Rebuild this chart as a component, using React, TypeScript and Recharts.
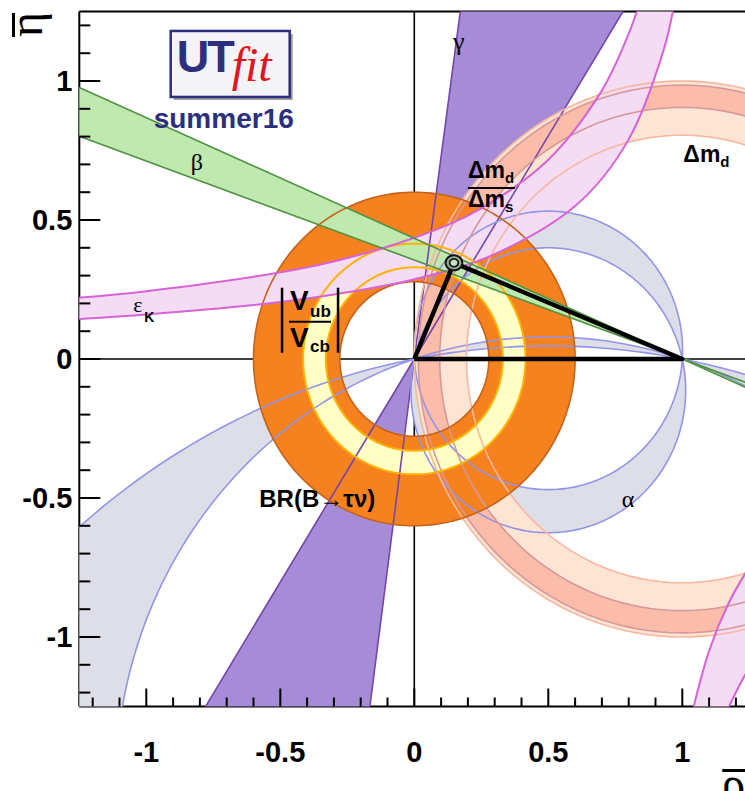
import React from "react";
import { ScatterChart, Scatter, XAxis, YAxis, ReferenceLine } from "recharts";

type P = { x: number; y: number };

// ---------- axes (rho-bar / eta-bar) ----------
const axisDomain: [number, number] = [-1.25, 1.25];
const allTicks = [
    -1.2, -1.1, -1, -0.9, -0.8, -0.7, -0.6, -0.5, -0.4, -0.3, -0.2, -0.1, 0,
    0.1, 0.2, 0.3, 0.4, 0.5, 0.6, 0.7, 0.8, 0.9, 1, 1.1, 1.2,
];
const majorTicks = [-1, -0.5, 0, 0.5, 1];

// ---------- constraints ----------
// gamma: wedge through the origin (edges where they leave the frame)
const gammaUp: P[] = [
    { x: 0, y: 0 },
    { x: 0.785, y: 1.26 },
    { x: 0.173, y: 1.26 },
];
const gammaDown: P[] = [
    { x: 0, y: 0 },
    { x: -0.785, y: -1.26 },
    { x: -0.167, y: -1.26 },
];

// beta: two lines crossing at (1, 0)
const betaTop: P[] = [
    { x: -1.3, y: 0.998 },
    { x: 1.3, y: -0.13 },
];
const betaLow: P[] = [
    { x: -1.3, y: 0.819 },
    { x: 1.3, y: -0.107 },
];

// alpha: circles through (0,0) and (1,0), given by the eta of their centre
const alphaNear = [0.031, -0.1125];
const alphaFar = [-2.63, -1.535];

// rings around the origin
const vubRadii = [0.33, 0.415];
const tauNuRadii = [0.278, 0.6];
// rings around (1, 0)
const dmdRadii = [0.805, 1.0];
const dmsRadii = [0.905, 0.985];

// eps_K hyperbola, upper branch
const epsUpTop: P[] = [
    { x: -1.3, y: 0.216 },
    { x: -1.0, y: 0.244 },
    { x: -0.6, y: 0.296 },
    { x: -0.3, y: 0.351 },
    { x: 0.0, y: 0.436 },
    { x: 0.25, y: 0.542 },
    { x: 0.5, y: 0.717 },
    { x: 0.69, y: 0.95 },
    { x: 0.8, y: 1.17 },
    { x: 0.87, y: 1.37 },
];
const epsUpLow: P[] = [
    { x: -1.3, y: 0.141 },
    { x: -1.0, y: 0.16 },
    { x: -0.6, y: 0.194 },
    { x: -0.3, y: 0.232 },
    { x: 0.0, y: 0.287 },
    { x: 0.3, y: 0.377 },
    { x: 0.6, y: 0.55 },
    { x: 0.8, y: 0.79 },
    { x: 0.93, y: 1.11 },
    { x: 0.99, y: 1.38 },
];
// eps_K, lower-right branch
const epsDownLeft: P[] = [
    { x: 1.015, y: -1.38 },
    { x: 1.04, y: -1.26 },
    { x: 1.1, y: -1.05 },
    { x: 1.17, y: -0.884 },
    { x: 1.25, y: -0.749 },
    { x: 1.32, y: -0.66 },
];
const epsDownRight: P[] = [
    { x: 1.125, y: -1.36 },
    { x: 1.17, y: -1.26 },
    { x: 1.21, y: -1.18 },
    { x: 1.25, y: -1.11 },
    { x: 1.32, y: -1.0 },
];

// global fit
const apex: P = { x: 0.148, y: 0.346 };
const apexContours = [
    [0.031, 0.027],
    [0.016, 0.014],
];
const triangle: P[] = [{ x: 0, y: 0 }, apex, { x: 1, y: 0 }, { x: 0, y: 0 }];

// annotations
const labels = [
    { id: "logo", x: -0.909, y: 1.18 },
    { id: "gamma", x: 0.144, y: 1.111 },
    { id: "beta", x: -0.834, y: 0.68 },
    { id: "epsK", x: -1.049, y: 0.169 },
    { id: "dmRatio", x: 0.2, y: 0.615 },
    { id: "dmd", x: 1.004, y: 0.709 },
    { id: "vub", x: -0.389, y: 0.134 },
    { id: "tau", x: -0.362, y: -0.532 },
    { id: "alpha", x: 0.774, y: -0.532 },
];

// ---------- helpers ----------
const sans = "'Liberation Sans', Arial, Helvetica, sans-serif";
const serif = "'Liberation Serif', 'Times New Roman', serif";

function ellipse(cx: number, cy: number, rx: number, ry: number, n = 240): P[] {
    const out: P[] = [];
    for (let i = 0; i < n; i++) {
        const t = (2 * Math.PI * i) / n;
        out.push({ x: cx + rx * Math.cos(t), y: cy + ry * Math.sin(t) });
    }
    return out;
}
const circle = (cx: number, cy: number, r: number, n = 240) => ellipse(cx, cy, r, r, n);
const alphaCircle = (c: number) => circle(0.5, c, Math.sqrt(0.25 + c * c), 360);

const f = (v: number) => v.toFixed(2);

function runPath(pts: P[], cmd: "M" | "L", smooth: boolean) {
    let d = `${cmd}${f(pts[0].x)},${f(pts[0].y)}`;
    for (let i = 1; i < pts.length; i++) {
        const p2 = pts[i];
        if (!smooth) {
            d += `L${f(p2.x)},${f(p2.y)}`;
            continue;
        }
        const p1 = pts[i - 1];
        const p0 = pts[i - 2] ?? p1;
        const p3 = pts[i + 1] ?? p2;
        const c1x = p1.x + (p2.x - p0.x) / 6;
        const c1y = p1.y + (p2.y - p0.y) / 6;
        const c2x = p2.x - (p3.x - p1.x) / 6;
        const c2y = p2.y - (p3.y - p1.y) / 6;
        d += `C${f(c1x)},${f(c1y)} ${f(c2x)},${f(c2y)} ${f(p2.x)},${f(p2.y)}`;
    }
    return d;
}

type Style = { fill?: string; stroke?: string; width?: number; smooth?: boolean; close?: boolean };
const noDot = () => <g />;

// one scatter series per shape; its "line" draws the outline from the scaled points
function layer(key: string, loops: P[][][], s: Style) {
    const data = loops.flat(2);
    const draw = (props: any) => {
        const px: P[] = props.points ?? [];
        let k = 0;
        let d = "";
        for (const loop of loops) {
            loop.forEach((run, i) => {
                const seg = px.slice(k, k + run.length);
                k += run.length;
                if (seg.length) d += runPath(seg, i === 0 ? "M" : "L", !!s.smooth);
            });
            if (s.close) d += "Z";
        }
        return (
            <path
                d={d}
                fill={s.fill ?? "none"}
                fillRule="evenodd"
                stroke={s.stroke ?? "none"}
                strokeWidth={s.width ?? 0}
                strokeLinejoin="round"
            />
        );
    };
    return (
        <Scatter key={key} data={data} shape={noDot} line={draw} isAnimationActive={false} />
    );
}

const rev = (a: P[]) => [...a].reverse();
const ringAt = (cx: number, radii: number[]) => radii.map((r) => [circle(cx, 0, r)]);

const isMajor = (v: number) => majorTicks.some((m) => Math.abs(m - v) < 1e-9);

const YTick = (props: any) => {
    const { x, y, payload } = props;
    const major = isMajor(payload.value);
    return (
        <g>
            <line x1={x} x2={x + (major ? 21 : 11)} y1={y} y2={y} stroke="#000" strokeWidth={2} />
            {major && (
                <text x={x - 7} y={y + 10} textAnchor="end" fontFamily={sans} fontWeight="bold" fontSize={29} fill="#000">
                    {String(payload.value)}
                </text>
            )}
        </g>
    );
};

const XTick = (props: any) => {
    const { x, y, payload } = props;
    const major = isMajor(payload.value);
    return (
        <g>
            <line x1={x} x2={x} y1={y} y2={y - (major ? 18 : 9)} stroke="#000" strokeWidth={2} />
            {major && (
                <text x={x} y={y + 55} textAnchor="middle" fontFamily={sans} fontWeight="bold" fontSize={29} fill="#000">
                    {String(payload.value)}
                </text>
            )}
        </g>
    );
};

const YTitle = (props: any) => {
    const vb = props.viewBox ?? { x: 0, y: 11.5 };
    return (
        <g transform={`translate(${vb.x + 42},${vb.y + 0.5}) rotate(-90)`}>
            <text x={0} y={0} textAnchor="end" fontFamily={serif} fontSize={48} fill="#000">η</text>
            <line x1={-25} x2={-1} y1={-28.5} y2={-28.5} stroke="#000" strokeWidth={3} />
        </g>
    );
};

const XTitle = (props: any) => {
    const vb = props.viewBox ?? { x: 79.3, y: 706.5, width: 670 };
    const x0 = vb.x + vb.width - 28;
    return (
        <g>
            <text x={x0} y={vb.y + 93} fontFamily={serif} fontSize={48} fill="#000">ρ</text>
            <line x1={x0 + 1} x2={x0 + 24} y1={vb.y + 64} y2={vb.y + 64} stroke="#000" strokeWidth={3} />
        </g>
    );
};

function renderLabel(id: string, cx: number, cy: number) {
    switch (id) {
        case "logo":
            return (
                <g>
                    <rect x={cx + 3} y={cy + 3} width={119} height={66} fill="#9c9c9c" />
                    <rect x={cx} y={cy} width={119} height={66} fill="#f4f4f8" stroke="#2c2f7d" strokeWidth={2.5} />
                    <text x={cx + 6} y={cy + 41} fontFamily={sans} fontWeight="bold" fontSize={45} letterSpacing={-2} fill="#2c2f7d">UT</text>
                    <text x={cx + 61} y={cy + 50} fontFamily={serif} fontStyle="italic" fontSize={48} fill="#e0161f">fit</text>
                    <text x={cx - 17} y={cy + 97} fontFamily={sans} fontWeight="bold" fontSize={28} fill="#2c2f7d">summer16</text>
                </g>
            );
        case "gamma":
            return <text x={cx} y={cy} fontFamily={serif} fontSize={26} fill="#000">γ</text>;
        case "beta":
            return <text x={cx} y={cy} fontFamily={serif} fontSize={24} fill="#000">β</text>;
        case "alpha":
            return <text x={cx} y={cy} fontFamily={serif} fontSize={24} fill="#000">α</text>;
        case "epsK":
            return (
                <g>
                    <text x={cx} y={cy} fontFamily={serif} fontSize={22} fill="#000">ε</text>
                    <text x={cx + 11} y={cy + 10} fontFamily={sans} fontWeight="bold" fontSize={14} fill="#000">K</text>
                </g>
            );
        case "dmRatio":
            return (
                <g fontFamily={sans} fontWeight="bold" fill="#000">
                    <text x={cx} y={cy - 10} fontSize={23}>
                        Δm<tspan fontSize={15} dy={5}>d</tspan>
                    </text>
                    <line x1={cx} x2={cx + 47} y1={cy} y2={cy} stroke="#000" strokeWidth={2} />
                    <text x={cx} y={cy + 19} fontSize={23}>
                        Δm<tspan fontSize={15} dy={5}>s</tspan>
                    </text>
                </g>
            );
        case "dmd":
            return (
                <text x={cx} y={cy} fontFamily={sans} fontWeight="bold" fontSize={23} fill="#000">
                    Δm<tspan fontSize={15} dy={5}>d</tspan>
                </text>
            );
        case "vub":
            return (
                <g fontFamily={sans} fontWeight="bold" fill="#000">
                    <line x1={cx - 28} x2={cx - 28} y1={cy - 34} y2={cy + 31} stroke="#000" strokeWidth={2.5} />
                    <line x1={cx + 28} x2={cx + 28} y1={cy - 34} y2={cy + 31} stroke="#000" strokeWidth={2.5} />
                    <text x={cx - 20} y={cy - 12} fontSize={28}>V</text>
                    <text x={cx} y={cy - 5} fontSize={17}>ub</text>
                    <line x1={cx - 21} x2={cx + 21} y1={cy} y2={cy} stroke="#000" strokeWidth={2} />
                    <text x={cx - 20} y={cy + 25} fontSize={28}>V</text>
                    <text x={cx} y={cy + 30} fontSize={17}>cb</text>
                </g>
            );
        case "tau":
            return (
                <text x={cx} y={cy} textAnchor="middle" fontFamily={sans} fontWeight="bold" fontSize={24} fill="#000">
                    BR(B→τν)
                </text>
            );
        default:
            return <g />;
    }
}

const LabelShape = (props: any) => renderLabel(props.payload?.id, props.cx, props.cy);

export default function App() {
    return (
        <div
            style={{
                position: "fixed",
                left: 0,
                top: 0,
                width: 745,
                height: 791,
                overflow: "hidden",
                background: "#fff",
            }}
        >
            <ScatterChart width={760} height={791} margin={{ top: 11.5, right: 10.7, bottom: 0, left: 0 }}>
                {/* filled regions, bottom to top */}
                {layer("gamma-f", [[gammaUp], [gammaDown]], { fill: "#a68bd7", close: true })}
                {layer("alpha-f1", [[alphaCircle(alphaNear[0])], [alphaCircle(alphaNear[1])]], { fill: "#dedee9", close: true })}
                {layer("alpha-f2", [[alphaCircle(alphaFar[0])], [alphaCircle(alphaFar[1])]], { fill: "#dedee9", close: true })}
                {layer("dmd-f", ringAt(1, dmdRadii), { fill: "#fee5d3", close: true })}
                {layer("dms-f", ringAt(1, dmsRadii), { fill: "#fbbcaa", close: true })}
                {layer("tau-f", ringAt(0, tauNuRadii), { fill: "#f5821f", close: true })}
                {layer("vub-f", ringAt(0, vubRadii), { fill: "#ffffc6", close: true })}
                {layer("eps-f1", [[epsUpTop, rev(epsUpLow)]], { fill: "#f5dcf5", close: true, smooth: true })}
                {layer("eps-f2", [[epsDownLeft, rev(epsDownRight)]], { fill: "#f5dcf5", close: true, smooth: true })}
                {layer("beta-f", [[[betaTop[0], betaTop[1], betaLow[1], betaLow[0]]]], { fill: "#bfe9ae", close: true })}

                <ReferenceLine y={0} stroke="#000" strokeWidth={1.6} />
                <ReferenceLine x={0} stroke="#000" strokeWidth={1.6} />

                {/* contours */}
                {layer("gamma-s", [[gammaUp], [gammaDown]], { stroke: "#7446ab", width: 1.6, close: true })}
                {layer("alpha-s", [...alphaNear, ...alphaFar].map((c) => [alphaCircle(c)]), { stroke: "#9494e8", width: 1.6, close: true })}
                {layer("dmd-s", ringAt(1, dmdRadii), { stroke: "#f8b7a0", width: 1.6, close: true })}
                {layer("dms-s", ringAt(1, dmsRadii), { stroke: "#d8979a", width: 1.6, close: true })}
                {layer("tau-s", ringAt(0, tauNuRadii), { stroke: "#c4621c", width: 1.6, close: true })}
                {layer("vub-s", ringAt(0, vubRadii), { stroke: "#ffb300", width: 2, close: true })}
                {layer("eps-s", [[epsUpTop], [epsUpLow], [epsDownLeft], [epsDownRight]], { stroke: "#d664d6", width: 2, smooth: true })}
                {layer("beta-s", [[betaTop], [betaLow]], { stroke: "#4f9342", width: 1.6 })}

                {/* fit result */}
                {layer("tri", [[triangle]], { stroke: "#000", width: 4.5 })}
                {layer("apex-f", [[ellipse(apex.x, apex.y, apexContours[0][0], apexContours[0][1])]], { fill: "#8fae8f", stroke: "#111", width: 2, close: true })}
                {layer("apex-i", [[ellipse(apex.x, apex.y, apexContours[1][0], apexContours[1][1])]], { fill: "#c9dfc2", stroke: "#111", width: 1.6, close: true })}

                <Scatter data={labels} shape={LabelShape} isAnimationActive={false} />

                <ReferenceLine y={1.25} stroke="#000" strokeWidth={2} />
                <ReferenceLine x={1.25} stroke="#000" strokeWidth={2} />

                <XAxis
                    type="number"
                    dataKey="x"
                    domain={axisDomain}
                    allowDataOverflow
                    ticks={allTicks}
                    interval={0}
                    tickSize={0}
                    tickMargin={0}
                    tick={XTick}
                    height={84.5}
                    axisLine={{ stroke: "#000", strokeWidth: 2 }}
                    label={{ content: XTitle }}
                />
                <YAxis
                    type="number"
                    dataKey="y"
                    domain={axisDomain}
                    allowDataOverflow
                    ticks={allTicks}
                    interval={0}
                    tickSize={0}
                    tickMargin={0}
                    tick={YTick}
                    width={79.3}
                    axisLine={{ stroke: "#000", strokeWidth: 2 }}
                    label={{ content: YTitle }}
                />
            </ScatterChart>
        </div>
    );
}
